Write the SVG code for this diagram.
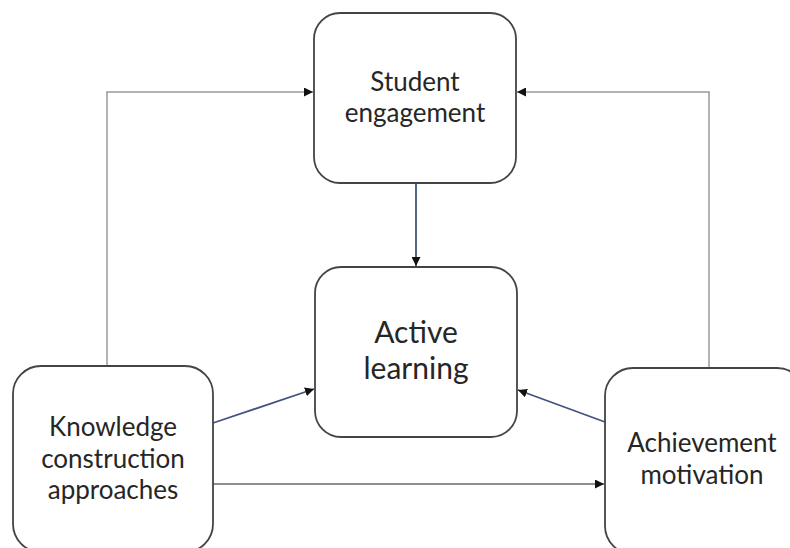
<svg xmlns="http://www.w3.org/2000/svg" width="790" height="548" viewBox="0 0 790 548">
  <style>
    .box { fill: #ffffff; stroke: #444444; stroke-width: 1.8; }
    .lbl { font-family: Lato, "Liberation Sans", sans-serif; font-size: 26px; fill: #262626; text-anchor: middle; }
    .big { font-size: 30px; }
    .gray { fill: none; stroke: #9a9a9a; stroke-width: 1.5; }
    .dark { fill: none; stroke: #6a6a6a; stroke-width: 1.5; }
    .blue { fill: none; stroke: #41557f; stroke-width: 1.8; }
  </style>
  <defs>
    <marker id="arrow" viewBox="0 0 10 10" refX="10" refY="5" markerWidth="9" markerHeight="9" markerUnits="userSpaceOnUse" orient="auto">
      <path d="M0,0 L10,5 L0,10 Z" fill="#111111"/>
    </marker>
  </defs>

  <rect width="790" height="548" fill="#ffffff"/>

  <g id="connectors">
    <!-- side loops into Student engagement -->
    <path class="gray" d="M107,366 V92 H313" marker-end="url(#arrow)"/>
    <path class="gray" d="M709,368 V92 H517" marker-end="url(#arrow)"/>
    <!-- Student engagement to Active learning -->
    <path class="blue" d="M416,183 V266" marker-end="url(#arrow)"/>
    <!-- Knowledge construction to Active learning -->
    <path class="blue" d="M213,423 L314,389" marker-end="url(#arrow)"/>
    <!-- Achievement motivation to Active learning -->
    <path class="blue" d="M605,422 L518,390" marker-end="url(#arrow)"/>
    <!-- Knowledge construction to Achievement motivation -->
    <path class="dark" d="M213,484 H604" marker-end="url(#arrow)"/>
  </g>

  <g id="student-engagement">
    <rect class="box" x="314" y="13" width="202" height="170" rx="26"/>
    <text class="lbl" x="415" y="91">Student</text>
    <text class="lbl" x="415" y="122">engagement</text>
  </g>

  <g id="active-learning">
    <rect class="box" x="315" y="267" width="202" height="170" rx="26"/>
    <text class="lbl big" x="416" y="343">Active</text>
    <text class="lbl big" x="416" y="379">learning</text>
  </g>

  <g id="knowledge-construction">
    <rect class="box" x="13" y="366" width="200" height="186" rx="28"/>
    <text class="lbl" x="113" y="436">Knowledge</text>
    <text class="lbl" x="113" y="468">construction</text>
    <text class="lbl" x="113" y="499">approaches</text>
  </g>

  <g id="achievement-motivation">
    <rect class="box" x="605" y="368" width="200" height="186" rx="28"/>
    <text class="lbl" x="702" y="452">Achievement</text>
    <text class="lbl" x="702" y="484">motivation</text>
  </g>
</svg>
